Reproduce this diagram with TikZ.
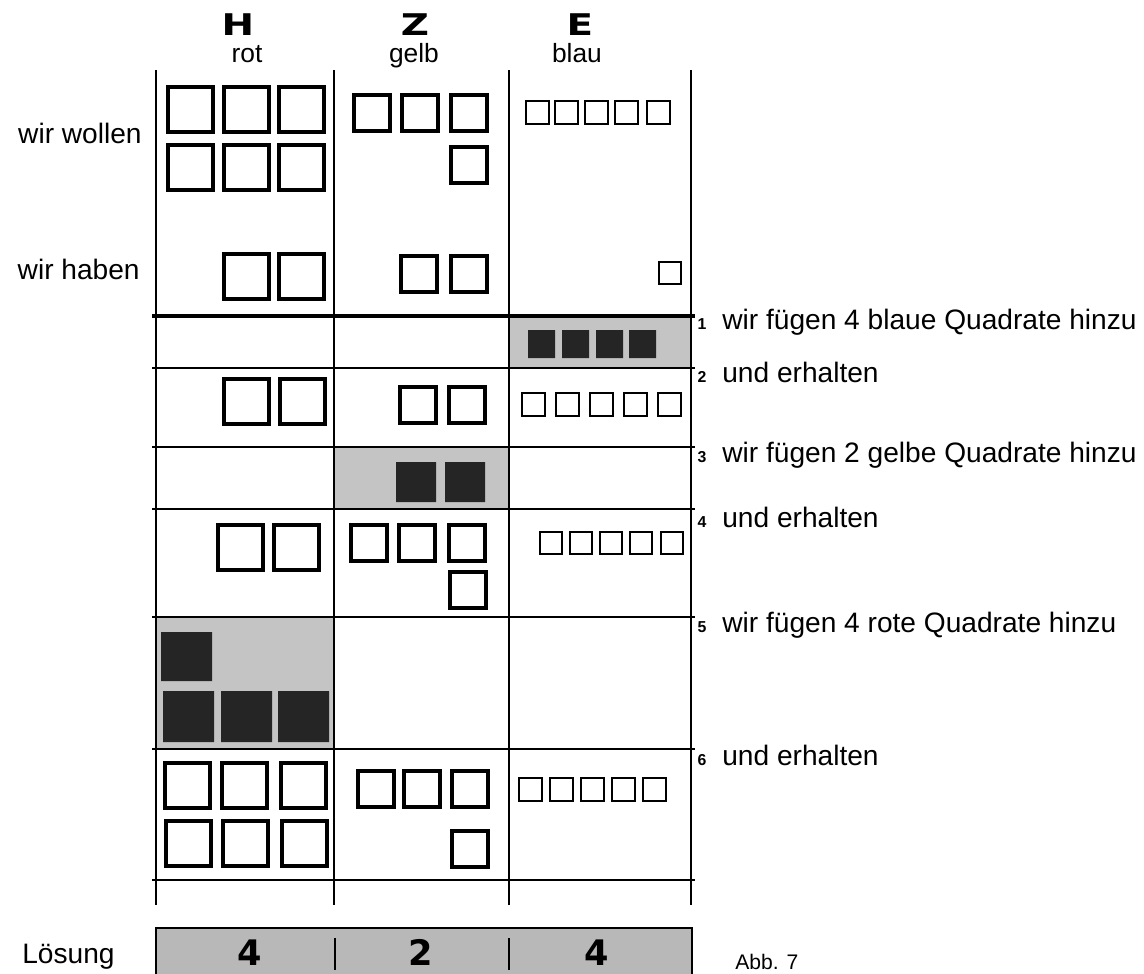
\documentclass[tikz,border=0pt]{standalone}
\usepackage{fontspec}
\setmainfont{Liberation Sans}
\newfontfamily\headfont{DejaVu Sans}
\usepackage{xcolor}
\definecolor{xshade}{HTML}{C4C4C4}
\definecolor{xsol}{HTML}{B8B8B8}
\definecolor{xdark}{HTML}{252525}
\tikzset{
	gridline/.style={line width=1.1pt},
	bigsq/.style={draw, line width=2.2pt},
	smallsq/.style={draw, line width=1.7pt},
	added/.style={fill=xdark},
	shaded/.style={fill=xshade},
	solution/.style={fill=xsol},
	letter/.style={inner sep=0pt, anchor=base, font=\headfont\bfseries\fontsize{17}{17}\selectfont},
	digit/.style={inner sep=0pt, anchor=base, font=\headfont\bfseries\fontsize{20}{20}\selectfont},
	colname/.style={inner sep=0pt, anchor=base, font=\fontsize{15}{18}\selectfont},
	rowlabel/.style={inner sep=0pt, anchor=base east, font=\fontsize{16}{18}\selectfont},
	steptext/.style={inner sep=0pt, anchor=base west, font=\fontsize{16}{18}\selectfont},
	tag/.style={inner sep=0pt, anchor=base, font=\bfseries\fontsize{9}{10}\selectfont},
}

\begin{document}
\begin{tikzpicture}[x=0.2mm, y=-0.2mm]
		\useasboundingbox (0,0) rectangle (1144,974);

		% Column heads
		\node[letter] (H) at (238,36) {\scalebox{1.3}[1]{H}};
		\node[letter] (Z) at (415,36) {\scalebox{1.3}[1]{Z}};
		\node[letter] (E) at (580,36) {\scalebox{1.3}[1]{E}};
		\node[colname] (rot) at (247,63) {rot};
		\node[colname] (gelb) at (414,63) {gelb};
		\node[colname] (blau) at (577,63) {blau};

		% Shaded rows
		\fill[shaded] (509,316) rectangle (691,368);
		\fill[shaded] (334,447) rectangle (509,509);
		\fill[shaded] (156,617) rectangle (334,749);

		% Grid
		\draw[gridline] (156,70) -- (156,905);
		\draw[gridline] (334,70) -- (334,905);
		\draw[gridline] (509,70) -- (509,905);
		\draw[gridline] (691,70) -- (691,905);
		\draw[line width=2.2pt] (152,316) -- (695,316);
		\draw[gridline] (152,368) -- (695,368);
		\draw[gridline] (152,447) -- (695,447);
		\draw[gridline] (152,509) -- (695,509);
		\draw[gridline] (152,617) -- (695,617);
		\draw[gridline] (152,749) -- (695,749);
		\draw[gridline] (152,880) -- (695,880);

		% Row labels
		\node[rowlabel] (wollen) at (142,143) {wir wollen};
		\node[rowlabel] (haben) at (140,279) {wir haben};

		% wir wollen
		\draw[bigsq] (168,87) rectangle ++(45,45) (224,87) rectangle ++(45,45) (279,87) rectangle ++(45,45)
			(168,145) rectangle ++(45,45) (224,145) rectangle ++(45,45) (279,145) rectangle ++(45,45);
		\draw[bigsq] (354,95) rectangle ++(36,36) (402,95) rectangle ++(36,36) (451,95) rectangle ++(36,36)
			(451,147) rectangle ++(36,36);
		\draw[smallsq] (526,101) rectangle ++(23,23) (555,101) rectangle ++(23,23) (585,101) rectangle ++(23,23)
			(615,101) rectangle ++(23,23) (647,101) rectangle ++(23,23);

		% wir haben
		\draw[bigsq] (224,254) rectangle ++(45,45) (279,254) rectangle ++(45,45);
		\draw[bigsq] (401,256) rectangle ++(36,36) (451,256) rectangle ++(36,36);
		\draw[smallsq] (659,262) rectangle ++(22,22);

		% Step 1
		\fill[added] (528,330) rectangle ++(27,28) (562,330) rectangle ++(27,28)
			(596,330) rectangle ++(27,28) (629,330) rectangle ++(27,28);

		% Step 2
		\draw[bigsq] (224,379) rectangle ++(45,45) (280,379) rectangle ++(45,45);
		\draw[bigsq] (400,387) rectangle ++(36,36) (449,387) rectangle ++(36,36);
		\draw[smallsq] (522,393) rectangle ++(23,23) (556,393) rectangle ++(23,23) (590,393) rectangle ++(23,23)
			(624,393) rectangle ++(23,23) (658,393) rectangle ++(23,23);

		% Step 3
		\fill[added] (396,462) rectangle ++(40,40) (445,462) rectangle ++(40,40);

		% Step 4
		\draw[bigsq] (218,525) rectangle ++(45,45) (274,525) rectangle ++(45,45);
		\draw[bigsq] (351,525) rectangle ++(36,36) (399,525) rectangle ++(36,36) (449,525) rectangle ++(36,36)
			(450,572) rectangle ++(36,36);
		\draw[smallsq] (540,532) rectangle ++(22,22) (570,532) rectangle ++(22,22) (600,532) rectangle ++(22,22)
			(630,532) rectangle ++(22,22) (661,532) rectangle ++(22,22);

		% Step 5
		\fill[added] (161,632) rectangle ++(51,49)
			(163,691) rectangle ++(51,51) (221,691) rectangle ++(51,51) (278,691) rectangle ++(51,51);

		% Step 6
		\draw[bigsq] (165,763) rectangle ++(45,45) (222,763) rectangle ++(45,45) (281,763) rectangle ++(45,45)
			(166,821) rectangle ++(45,45) (223,821) rectangle ++(45,45) (282,821) rectangle ++(45,45);
		\draw[bigsq] (358,771) rectangle ++(36,36) (404,771) rectangle ++(36,36) (452,771) rectangle ++(36,36)
			(452,831) rectangle ++(36,36);
		\draw[smallsq] (519,778) rectangle ++(23,23) (550,778) rectangle ++(23,23) (581,778) rectangle ++(23,23)
			(612,778) rectangle ++(23,23) (643,778) rectangle ++(23,23);

		% Steps on the right
		\node[tag] (t1) at (702,329) {1};
		\node[tag] (t2) at (702,382) {2};
		\node[tag] (t3) at (702,462) {3};
		\node[tag] (t4) at (702,527) {4};
		\node[tag] (t5) at (702,632) {5};
		\node[tag] (t6) at (702,765) {6};
		\node[steptext] (s1) at (722,329) {wir fügen 4 blaue Quadrate hinzu};
		\node[steptext] (s2) at (722,382) {und erhalten};
		\node[steptext] (s3) at (722,462) {wir fügen 2 gelbe Quadrate hinzu};
		\node[steptext] (s4) at (722,527) {und erhalten};
		\node[steptext] (s5) at (722,632) {wir fügen 4 rote Quadrate hinzu};
		\node[steptext] (s6) at (722,765) {und erhalten};

		% Solution
		\fill[solution] (156,928) rectangle (692,980);
		\draw[line width=1.6pt] (156,980) -- (156,928) -- (692,928) -- (692,980);
		\draw[gridline] (335,938) -- (335,970);
		\draw[gridline] (509,938) -- (509,970);
		\node[digit] (n1) at (250,965) {4};
		\node[digit] (n2) at (421,965) {2};
		\node[digit] (n3) at (597,965) {4};
		\node[steptext] (loesung) at (22,963) {Lösung};
		\node[steptext, font=\fontsize{12}{14}\selectfont] (abb) at (735,969) {Abb. 7};
\end{tikzpicture}
\end{document}
